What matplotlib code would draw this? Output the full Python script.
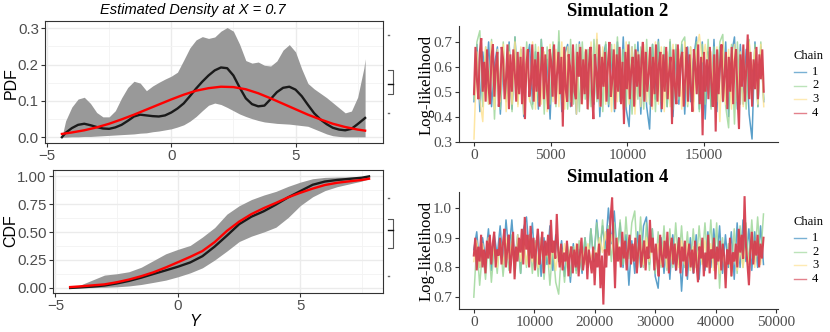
import numpy as np
import matplotlib
matplotlib.use("Agg")
import matplotlib.pyplot as plt
from matplotlib.lines import Line2D

# ---------------- data: left panels ----------------
pdf_y = [-4.4, -4.25, -4.0, -3.75, -3.5, -3.25, -3.0, -2.75, -2.5, -2.25, -2.0, -1.75,
         -1.5, -1.25, -1.0, -0.75, -0.5, -0.25, 0.0, 0.25, 0.5, 0.75, 1.0, 1.25, 1.5,
         1.75, 2.0, 2.25, 2.5, 2.75, 3.0, 3.25, 3.5, 3.75, 4.0, 4.25, 4.5, 4.75, 5.0,
         5.25, 5.5, 5.75, 6.0, 6.25, 6.5, 6.75, 7.0, 7.25, 7.5, 7.75, 7.8]
pdf_mean = [0.0, 0.012, 0.025, 0.034, 0.037, 0.033, 0.028, 0.024, 0.023, 0.027, 0.034, 0.045,
            0.057, 0.062, 0.060, 0.058, 0.057, 0.060, 0.068, 0.079, 0.093, 0.113, 0.134, 0.153,
            0.170, 0.184, 0.192, 0.190, 0.170, 0.137, 0.107, 0.091, 0.085, 0.087, 0.105, 0.124,
            0.136, 0.139, 0.131, 0.113, 0.089, 0.066, 0.049, 0.036, 0.026, 0.021, 0.019, 0.023,
            0.036, 0.050, 0.053]
pdf_lower = [0.0, 0.0, 0.001, 0.001, 0.002, 0.002, 0.003, 0.004, 0.005, 0.006, 0.007, 0.008,
             0.009, 0.011, 0.012, 0.015, 0.017, 0.020, 0.023, 0.028, 0.034, 0.044, 0.057, 0.073,
             0.088, 0.094, 0.090, 0.082, 0.073, 0.064, 0.057, 0.051, 0.046, 0.042, 0.040, 0.038,
             0.037, 0.036, 0.034, 0.032, 0.030, 0.023, 0.016, 0.009, 0.004, 0.002, 0.001, 0.001,
             0.001, 0.001, 0.001]
pdf_upper = [0.0, 0.045, 0.083, 0.105, 0.110, 0.093, 0.068, 0.056, 0.056, 0.073, 0.108, 0.137,
             0.154, 0.149, 0.128, 0.141, 0.151, 0.160, 0.168, 0.179, 0.212, 0.246, 0.268, 0.277,
             0.272, 0.276, 0.292, 0.302, 0.292, 0.256, 0.211, 0.204, 0.207, 0.198, 0.196, 0.210,
             0.240, 0.255, 0.235, 0.188, 0.148, 0.133, 0.121, 0.109, 0.095, 0.081, 0.067, 0.072,
             0.110, 0.190, 0.216]
true_y = [-4.4, -4.0, -3.5, -3.0, -2.5, -2.0, -1.5, -1.0, -0.5, 0.0, 0.5, 1.0, 1.5, 2.0,
          2.5, 3.0, 3.5, 4.0, 4.5, 5.0, 5.5, 6.0, 6.5, 7.0, 7.5, 7.8]
true_pdf = [0.009, 0.013, 0.019, 0.027, 0.037, 0.049, 0.062, 0.076, 0.090, 0.104, 0.117, 0.128,
            0.135, 0.139, 0.138, 0.132, 0.121, 0.107, 0.092, 0.077, 0.062, 0.049, 0.037, 0.028,
            0.021, 0.018]

cdf_y = [-4.4, -4.0, -3.5, -3.0, -2.5, -2.0, -1.5, -1.0, -0.5, 0.0, 0.5, 1.0, 1.5, 2.0,
         2.5, 3.0, 3.5, 4.0, 4.5, 5.0, 5.5, 6.0, 6.5, 7.0, 7.5, 7.8]
cdf_mean = [0.0, 0.005, 0.012, 0.022, 0.040, 0.063, 0.092, 0.125, 0.157, 0.190, 0.228, 0.284,
            0.370, 0.468, 0.570, 0.637, 0.685, 0.745, 0.810, 0.866, 0.922, 0.951, 0.965, 0.975,
            0.985, 0.997]
cdf_lower = [0.0, 0.001, 0.003, 0.006, 0.010, 0.018, 0.031, 0.050, 0.070, 0.100, 0.135, 0.180,
             0.250, 0.330, 0.415, 0.463, 0.500, 0.543, 0.630, 0.737, 0.815, 0.870, 0.905, 0.930,
             0.955, 0.976]
cdf_upper = [0.005, 0.025, 0.070, 0.115, 0.127, 0.145, 0.185, 0.245, 0.305, 0.345, 0.380, 0.455,
             0.540, 0.660, 0.735, 0.790, 0.830, 0.863, 0.908, 0.946, 0.976, 0.988, 0.991, 0.992,
             0.993, 1.0]
true_cdf = [0.008, 0.014, 0.023, 0.032, 0.051, 0.075, 0.105, 0.140, 0.183, 0.230, 0.278, 0.330,
            0.410, 0.510, 0.593, 0.660, 0.713, 0.760, 0.810, 0.851, 0.888, 0.920, 0.940, 0.953,
            0.965, 0.976]

# ---------------- data: trace plots ----------------
chains = ["1", "2", "3", "4"]
chain_colors = ["#3288BD", "#99D594", "#FEE08B", "#D53E4F"]

sim2_iter_max = 18900
sim2_chain1 = [0.46, 0.69, 0.42, 0.66, 0.53, 0.70, 0.44, 0.61, 0.68, 0.41,
               0.64, 0.47, 0.70, 0.43, 0.72, 0.50, 0.67, 0.40, 0.62, 0.69,
               0.45, 0.66, 0.43, 0.71, 0.48, 0.63, 0.39, 0.68, 0.46, 0.70,
               0.42, 0.65, 0.69, 0.44, 0.60, 0.41, 0.70, 0.47, 0.66, 0.43,
               0.68, 0.45, 0.71, 0.40, 0.64, 0.69, 0.44, 0.67, 0.42, 0.70,
               0.46, 0.72, 0.43, 0.36, 0.68, 0.45, 0.70, 0.41, 0.66, 0.44,
               0.35, 0.69, 0.47, 0.71, 0.42, 0.65, 0.44, 0.70, 0.40, 0.67,
               0.45, 0.69, 0.41, 0.68, 0.46, 0.63, 0.72, 0.43, 0.70, 0.39,
               0.66, 0.44, 0.71, 0.42, 0.68, 0.46, 0.70, 0.40, 0.65, 0.72,
               0.43, 0.69, 0.45, 0.67, 0.41, 0.31, 0.70, 0.44, 0.68, 0.46]
sim2_chain2 = [0.47, 0.70, 0.745, 0.44, 0.68, 0.45, 0.71, 0.39, 0.66, 0.43,
               0.70, 0.46, 0.69, 0.42, 0.72, 0.45, 0.67, 0.44, 0.70, 0.47,
               0.43, 0.69, 0.46, 0.71, 0.41, 0.68, 0.45, 0.70, 0.44, 0.745,
               0.46, 0.68, 0.43, 0.71, 0.45, 0.69, 0.42, 0.70, 0.47, 0.67,
               0.44, 0.71, 0.46, 0.68, 0.42, 0.70, 0.45, 0.69, 0.43, 0.72,
               0.46, 0.67, 0.44, 0.70, 0.41, 0.69, 0.47, 0.68, 0.43, 0.71,
               0.45, 0.69, 0.42, 0.70, 0.46, 0.68, 0.44, 0.71, 0.43, 0.69,
               0.47, 0.70, 0.72, 0.44, 0.68, 0.46, 0.70, 0.42, 0.69, 0.45,
               0.71, 0.43, 0.68, 0.46, 0.70, 0.73, 0.44, 0.355, 0.69, 0.37,
               0.70, 0.45, 0.68, 0.43, 0.71, 0.46, 0.69, 0.44, 0.70, 0.47]
sim2_chain3 = [0.31, 0.66, 0.47, 0.38, 0.68, 0.45, 0.70, 0.43, 0.67, 0.46,
               0.69, 0.42, 0.66, 0.45, 0.70, 0.44, 0.68, 0.41, 0.67, 0.46,
               0.70, 0.43, 0.68, 0.45, 0.66, 0.42, 0.69, 0.46, 0.67, 0.44,
               0.70, 0.43, 0.68, 0.46, 0.66, 0.41, 0.69, 0.45, 0.67, 0.43,
               0.70, 0.46, 0.735, 0.44, 0.68, 0.45, 0.66, 0.42, 0.69, 0.46,
               0.67, 0.43, 0.70, 0.45, 0.68, 0.41, 0.66, 0.44, 0.69, 0.46,
               0.67, 0.43, 0.70, 0.45, 0.68, 0.42, 0.66, 0.44, 0.69, 0.46,
               0.67, 0.43, 0.70, 0.45, 0.68, 0.42, 0.66, 0.73, 0.62, 0.69,
               0.60, 0.66, 0.44, 0.68, 0.38, 0.70, 0.45, 0.67, 0.43, 0.69,
               0.46, 0.66, 0.44, 0.60, 0.70, 0.58, 0.67, 0.45, 0.69, 0.44]
sim2_chain4 = [0.49, 0.68, 0.55, 0.47, 0.66, 0.715, 0.50, 0.62, 0.46, 0.67,
               0.52, 0.45, 0.64, 0.69, 0.48, 0.60, 0.66, 0.44, 0.51, 0.68,
               0.63, 0.47, 0.55, 0.69, 0.43, 0.65, 0.50, 0.67, 0.58, 0.46,
               0.66, 0.49, 0.64, 0.45, 0.68, 0.39, 0.61, 0.67, 0.48, 0.53,
               0.69, 0.46, 0.63, 0.50, 0.66, 0.44, 0.59, 0.68, 0.47, 0.65,
               0.52, 0.43, 0.67, 0.62, 0.48, 0.69, 0.45, 0.57, 0.66, 0.49,
               0.64, 0.36, 0.68, 0.51, 0.46, 0.65, 0.60, 0.44, 0.69, 0.50,
               0.47, 0.66, 0.56, 0.68, 0.45, 0.63, 0.49, 0.67, 0.43, 0.61,
               0.68, 0.50, 0.39, 0.65, 0.58, 0.47, 0.69, 0.44, 0.64, 0.52,
               0.66, 0.46, 0.61, 0.70, 0.48, 0.55, 0.67, 0.43, 0.65, 0.50,
               0.68, 0.45, 0.62, 0.37, 0.66, 0.51, 0.69, 0.47, 0.59, 0.64,
               0.44, 0.67, 0.52, 0.65, 0.48, 0.63, 0.70, 0.46, 0.66, 0.50,
               0.57, 0.68, 0.44, 0.64, 0.49, 0.69, 0.46, 0.61, 0.66, 0.43,
               0.65, 0.50, 0.68, 0.47, 0.58, 0.64, 0.37, 0.67, 0.52, 0.45,
               0.69, 0.48, 0.63, 0.66, 0.44, 0.55, 0.68, 0.46, 0.65, 0.51,
               0.42, 0.67, 0.60, 0.49, 0.69, 0.45, 0.64, 0.325, 0.66, 0.50,
               0.63, 0.47, 0.68, 0.53, 0.44, 0.65, 0.34, 0.67, 0.49, 0.61,
               0.69, 0.46, 0.56, 0.66, 0.43, 0.64, 0.50, 0.68, 0.45, 0.62,
               0.67, 0.48, 0.35, 0.65, 0.52, 0.69, 0.46, 0.60, 0.73, 0.47,
               0.66, 0.44, 0.63, 0.51, 0.68, 0.47, 0.65, 0.55, 0.67, 0.50]

sim4_iter_max = 47900
sim4_chain1 = [0.86, 0.92, 0.80, 0.90, 0.83, 0.93, 0.79, 0.91, 0.84, 0.94,
               0.81, 0.96, 0.85, 0.96, 0.82, 0.91, 0.78, 0.93, 0.97, 0.84,
               0.95, 0.80, 0.92, 0.77, 0.90, 0.81, 0.94, 0.79, 0.91, 0.82,
               0.89, 0.77, 0.87, 0.75, 0.88, 0.79, 0.86, 0.78, 0.90, 0.80,
               0.93, 0.82, 0.96, 0.85, 0.94, 0.86, 1.00, 0.88, 0.99, 0.84,
               0.95, 0.80, 0.91, 0.74, 0.89, 0.78, 0.92, 0.80, 0.94, 0.97,
               0.81, 0.93, 0.77, 0.73, 0.90, 0.78, 0.89, 0.76, 0.91, 0.79,
               0.90, 0.72, 0.88, 0.76, 0.90, 0.78, 0.91, 0.76, 0.89, 0.79,
               0.92, 0.80, 0.93, 0.81, 0.94, 0.78, 0.91, 0.80, 0.92, 0.76,
               0.95, 0.80, 0.96, 0.82, 0.93, 0.79, 0.92, 0.80, 0.94, 0.81]
sim4_chain2 = [0.70, 0.88, 0.74, 0.86, 0.76, 0.89, 0.75, 0.87, 0.78, 0.90,
               0.77, 0.88, 0.79, 0.91, 0.77, 0.89, 0.78, 0.90, 0.80, 0.91,
               0.78, 0.89, 0.77, 0.90, 0.76, 0.88, 0.74, 0.87, 0.75, 0.71,
               0.86, 0.75, 0.88, 0.77, 0.87, 0.78, 0.89, 0.79, 0.90, 0.80,
               0.93, 0.82, 0.95, 0.84, 0.96, 0.83, 0.94, 0.82, 0.95, 0.83,
               0.96, 0.81, 0.97, 0.83, 0.95, 0.99, 0.82, 0.97, 0.80, 0.95,
               0.79, 0.93, 0.78, 0.92, 0.80, 0.94, 0.79, 0.93, 0.80, 0.95,
               0.81, 0.94, 0.80, 0.92, 0.79, 0.93, 0.80, 0.94, 0.82, 0.95,
               0.81, 0.96, 0.80, 0.95, 0.73, 0.90, 0.76, 0.88, 0.77, 0.93,
               0.78, 0.94, 0.80, 0.95, 0.81, 0.96, 0.82, 0.97, 0.83, 0.98]
sim4_chain3 = [0.82, 0.89, 0.80, 0.88, 0.81, 0.90, 0.82, 0.87, 0.80, 0.89,
               0.81, 0.90, 0.83, 0.88, 0.80, 0.91, 0.82, 0.89, 0.81, 0.90,
               0.82, 0.88, 0.80, 0.89, 0.81, 0.87, 0.80, 0.88, 0.79, 0.87,
               0.81, 0.88, 0.80, 0.87, 0.82, 0.88, 0.80, 0.87, 0.81, 0.88,
               0.83, 0.86, 0.84, 0.90, 0.85, 0.92, 0.84, 0.91, 0.83, 0.90,
               0.82, 0.89, 0.81, 0.90, 0.82, 0.88, 0.80, 0.89, 0.81, 0.90,
               0.82, 0.89, 0.80, 0.88, 0.81, 0.89, 0.80, 0.87, 0.81, 0.88,
               0.80, 0.89, 0.81, 0.88, 0.79, 0.87, 0.80, 0.88, 0.81, 0.89,
               0.80, 0.88, 0.79, 0.86, 0.78, 0.85, 0.79, 0.84, 0.78, 0.85,
               0.79, 0.86, 0.80, 0.87, 0.81, 0.88, 0.80, 0.89, 0.81, 0.90]
sim4_chain4 = [0.84, 0.90, 0.79, 0.87, 0.82, 0.91, 0.80, 0.86, 0.78, 0.89,
               0.83, 0.91, 0.81, 0.88, 0.92, 0.80, 0.86, 0.84, 0.90, 0.81,
               0.88, 0.93, 0.80, 0.86, 0.91, 0.78, 0.84, 0.92, 0.76, 0.87,
               0.82, 0.90, 0.85, 0.93, 0.81, 0.97, 0.86, 0.91, 0.80, 0.94,
               0.83, 0.90, 0.79, 0.88, 0.93, 0.81, 0.86, 0.92, 0.78, 0.89,
               0.84, 0.91, 0.81, 0.96, 0.85, 0.89, 0.83, 0.98, 0.86, 0.80,
               0.88, 0.79, 0.85, 0.82, 0.89, 0.77, 0.84, 0.87, 0.78, 0.86,
               0.80, 0.88, 0.77, 0.85, 0.90, 0.79, 0.83, 0.87, 0.76, 0.86,
               0.82, 0.78, 0.87, 0.74, 0.85, 0.80, 0.88, 0.73, 0.84, 0.675,
               0.86, 0.80, 0.93, 0.84, 0.97, 1.035, 0.88, 0.73, 0.90, 0.82,
               0.87, 0.80, 0.92, 0.83, 0.89, 0.79, 0.86, 0.91, 0.81, 0.88,
               0.82, 0.90, 0.78, 0.86, 0.91, 0.80, 0.85, 0.89, 0.79, 0.87,
               0.83, 0.96, 0.85, 0.90, 0.79, 0.88, 0.82, 0.77, 0.91, 0.84,
               0.80, 0.89, 0.83, 0.92, 0.78, 0.86, 0.90, 0.81, 0.88, 0.79,
               0.85, 0.90, 0.78, 0.87, 0.82, 0.89, 0.77, 0.84, 0.88, 0.80,
               0.86, 0.78, 0.89, 0.81, 0.75, 0.87, 0.83, 0.90, 0.77, 0.85,
               0.80, 0.91, 0.78, 0.86, 0.83, 0.90, 0.76, 0.87, 0.82, 0.89,
               0.79, 0.88, 0.84, 0.73, 0.86, 0.81, 0.90, 0.77, 0.85, 0.82,
               0.88, 0.80, 0.93, 0.85, 0.91, 0.83, 1.04, 0.87, 0.81, 0.74,
               0.86, 0.92, 0.81, 0.89, 0.84, 0.91, 0.80, 0.88, 0.83, 0.90]

# ---------------- figure ----------------
W, H = 830, 332
fig = plt.figure(figsize=(W / 100, H / 100), dpi=100)


def ax_px(x0, y0, x1, y1):
    return fig.add_axes([x0 / W, 1 - y1 / H, (x1 - x0) / W, (y1 - y0) / H])


SANS = ["Liberation Sans", "DejaVu Sans"]
SERIF = ["Liberation Serif", "DejaVu Serif"]
TICK_GRAY = "#4D4D4D"


def style_bw(ax):
    ax.set_facecolor("white")
    for s in ax.spines.values():
        s.set_color("#333333")
        s.set_linewidth(0.8)
    ax.grid(True, which="major", color="#EBEBEB", linewidth=1.0)
    ax.grid(True, which="minor", color="#F3F3F3", linewidth=0.6)
    ax.set_axisbelow(True)
    ax.tick_params(which="major", length=3, width=0.8, color="#333333",
                   labelsize=10.8, labelcolor=TICK_GRAY, pad=1.5)
    ax.tick_params(which="minor", length=0)
    for lab in ax.get_xticklabels() + ax.get_yticklabels():
        lab.set_family(SANS)


# --- PDF panel ---
axp = ax_px(45, 21, 383, 143)
axp.fill_between(pdf_y, pdf_lower, pdf_upper, color="#999999", linewidth=0, zorder=2)
axp.plot(pdf_y, pdf_mean, color="#1a1a1a", linewidth=1.7, zorder=3)
axp.plot(true_y, true_pdf, color="#FF0000", linewidth=1.7, zorder=4)
axp.set_xlim(-5.08, 8.52)
axp.set_ylim(-0.016, 0.32)
axp.set_xticks([-5, 0, 5])
axp.set_xticks([-2.5, 2.5, 7.5], minor=True)
axp.set_yticks([0.0, 0.1, 0.2, 0.3])
axp.set_yticks([0.05, 0.15, 0.25], minor=True)
axp.set_yticklabels(["0.0", "0.1", "0.2", "0.3"])
style_bw(axp)

# --- CDF panel ---
axc = ax_px(53, 170, 383, 293)
axc.fill_between(cdf_y, cdf_lower, cdf_upper, color="#999999", linewidth=0, zorder=2)
axc.plot(cdf_y, cdf_mean, color="#1a1a1a", linewidth=1.7, zorder=3)
axc.plot(cdf_y, true_cdf, color="#FF0000", linewidth=1.7, zorder=4)
axc.set_xlim(-5.10, 8.37)
axc.set_ylim(-0.045, 1.054)
axc.set_xticks([-5, 0, 5])
axc.set_xticks([-2.5, 2.5, 7.5], minor=True)
axc.set_yticks([0.0, 0.25, 0.5, 0.75, 1.0])
axc.set_yticks([0.125, 0.375, 0.625, 0.875], minor=True)
axc.set_yticklabels(["0.00", "0.25", "0.50", "0.75", "1.00"])
style_bw(axc)

fig.text(193 / W, 1 - 10 / H, "Estimated Density at X = 0.7", ha="center", va="center",
         fontsize=10.5, style="italic", family=SANS)
fig.text(11 / W, 1 - 83 / H, "PDF", rotation=90, ha="center", va="center",
         fontsize=11.5, family=SANS)
fig.text(10.5 / W, 1 - 231 / H, "CDF", rotation=90, ha="center", va="center",
         fontsize=11.5, family=SANS)
fig.text(195 / W, 1 - 321 / H, "Y", ha="center", va="center", fontsize=11.5,
         style="italic", family=SANS)


# small legend-like glyphs to the right of the left panels
def fig_line(xs, ys, color, lw):
    fig.add_artist(Line2D([x / W for x in xs], [1 - y / H for y in ys], color=color,
                          linewidth=lw, transform=fig.transFigure))


for (dot1, b0, bm, b1, dot2) in [(35, 70, 84, 94, 113), (198, 219, 230, 248, 276)]:
    fig_line([388, 389.2], [dot1, dot1], "#666666", 1.0)
    fig_line([388, 389.2], [dot2, dot2], "#666666", 1.0)
    fig_line([388, 392.5, 392.5, 388], [b0, b0, b1, b1], "#555555", 0.8)
    fig_line([388, 392.5], [bm, bm], "#111111", 1.0)


# --- trace panels ---
def style_classic(ax):
    for s in ["top", "right"]:
        ax.spines[s].set_visible(False)
    for s in ["left", "bottom"]:
        ax.spines[s].set_color("#333333")
        ax.spines[s].set_linewidth(0.8)
    ax.tick_params(length=3, width=0.8, color="#333333", labelsize=11,
                   labelcolor=TICK_GRAY, pad=2)
    for lab in ax.get_xticklabels() + ax.get_yticklabels():
        lab.set_family(SERIF)


def draw_traces(ax, series, iter_max):
    for i, (name, vals, col) in enumerate(zip(chains, series, chain_colors)):
        it = np.linspace(0, iter_max, len(vals))
        if i == 3:
            ax.plot(it, vals, color=col, linewidth=1.5, alpha=0.95, label=name,
                    solid_joinstyle="miter")
        else:
            ax.plot(it, vals, color=col, linewidth=1.1, alpha=0.8, label=name)


ax2 = ax_px(459, 26, 778, 142)
draw_traces(ax2, [sim2_chain1, sim2_chain2, sim2_chain3, sim2_chain4], sim2_iter_max)
ax2.set_xlim(-978, 19830)
ax2.set_ylim(0.298, 0.764)
ax2.set_xticks([0, 5000, 10000, 15000])
ax2.set_yticks([0.3, 0.4, 0.5, 0.6, 0.7])
style_classic(ax2)
fig.text(427 / W, 1 - 85 / H, "Log-likelihood", rotation=90, ha="center", va="center",
         family=SERIF, fontsize=12)
fig.text(618 / W, 1 - 12 / H, "Simulation 2", ha="center", va="center", fontsize=13.5,
         weight="bold", family=SERIF)

ax4 = ax_px(459, 192, 778, 309)
draw_traces(ax4, [sim4_chain1, sim4_chain2, sim4_chain3, sim4_chain4], sim4_iter_max)
ax4.set_xlim(-2450, 50300)
ax4.set_ylim(0.66, 1.054)
ax4.set_xticks([0, 10000, 20000, 30000, 40000, 50000])
ax4.set_yticks([0.7, 0.8, 0.9, 1.0])
style_classic(ax4)
fig.text(427 / W, 1 - 251 / H, "Log-likelihood", rotation=90, ha="center", va="center",
         family=SERIF, fontsize=12)
fig.text(618 / W, 1 - 178 / H, "Simulation 4", ha="center", va="center", fontsize=13.5,
         weight="bold", family=SERIF)

# legends (drawn manually for exact placement)
for title_y, rows in [(56, [72, 85.5, 99, 112.5]), (222, [238, 252, 265, 279])]:
    fig.text(793 / W, 1 - title_y / H, "Chain", ha="left", va="center", family=SERIF,
             fontsize=9)
    for name, col, ry in zip(chains, chain_colors, rows):
        fig.add_artist(Line2D([794 / W, 806 / W], [1 - ry / H, 1 - ry / H], color=col,
                              linewidth=1.0, alpha=0.65, transform=fig.transFigure))
        fig.text(812 / W, 1 - ry / H, name, ha="left", va="center", family=SERIF,
                 fontsize=9)

fig.savefig("out.png", dpi=100, facecolor="white")
